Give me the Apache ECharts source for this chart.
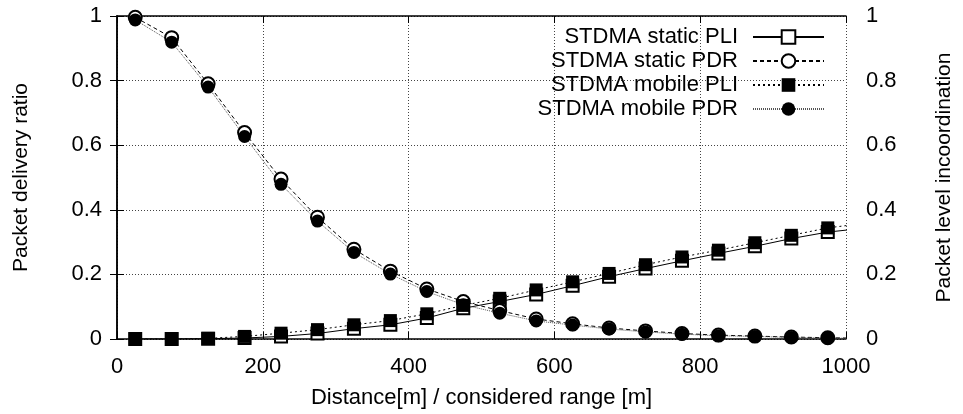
<!DOCTYPE html>
<html>
<head>
<meta charset="utf-8">
<script src="https://cdn.jsdelivr.net/npm/echarts@6/dist/echarts.min.js"></script>
<style>html,body{margin:0;padding:0;background:#fff}#c{width:963px;height:414px}</style>
</head>
<body>
<div id="c"></div>
<script>
// Distances [m]; the last one lies beyond the plotted range and is clipped at the border
const distances = [25, 75, 125, 175, 225, 275, 325, 375, 425, 475, 525, 575, 625, 675, 725, 775, 825, 875, 925, 975, 1025];
const staticPLI  = [0, 0, 0.001, 0.003, 0.008, 0.017, 0.032, 0.044, 0.065, 0.095, 0.116, 0.138, 0.165, 0.193, 0.218, 0.242, 0.265, 0.287, 0.311, 0.331, 0.343];
const staticPDR  = [0.996, 0.933, 0.790, 0.639, 0.495, 0.377, 0.278, 0.210, 0.155, 0.116, 0.088, 0.062, 0.047, 0.034, 0.025, 0.017, 0.012, 0.009, 0.006, 0.004, 0.002];
const mobilePLI  = [0, 0, 0.002, 0.008, 0.018, 0.029, 0.044, 0.057, 0.078, 0.104, 0.126, 0.152, 0.177, 0.203, 0.230, 0.254, 0.275, 0.298, 0.321, 0.344, 0.358];
const mobilePDR  = [0.988, 0.919, 0.780, 0.627, 0.479, 0.365, 0.268, 0.201, 0.147, 0.106, 0.080, 0.056, 0.043, 0.031, 0.022, 0.015, 0.010, 0.008, 0.005, 0.003, 0.002];
const seriesNames = ['STDMA static PLI', 'STDMA static PDR', 'STDMA mobile PLI', 'STDMA mobile PDR'];
const xTicks = [0, 200, 400, 600, 800, 1000];
const yTicks = [0, 0.2, 0.4, 0.6, 0.8, 1];

const FONT = 'Liberation Sans';
const pairs = arr => distances.map((d, i) => [d, arr[i]]);
const chart = echarts.init(document.getElementById('c'), null, {renderer: 'canvas'});

const yAxisCommon = {
  type: 'value', min: yTicks[0], max: yTicks[yTicks.length - 1], interval: 0.2,
  nameLocation: 'middle', nameRotate: 90,
  nameTextStyle: {fontFamily: FONT, fontSize: 21, color: '#000'},
  axisLine: {show: true, lineStyle: {color: '#000', width: 1.5}},
  axisTick: {show: true, inside: true, length: 7, lineStyle: {color: '#000'}},
  axisLabel: {fontFamily: FONT, fontSize: 22, color: '#000', formatter: v => String(v)}
};

chart.setOption({
  animation: false,
  backgroundColor: '#fff',
  grid: {left: 117, right: 110, top: 16, bottom: 73, containLabel: false},
  legend: {
    orient: 'vertical', right: 133, top: 20, align: 'right',
    itemWidth: 71, itemHeight: 17, itemGap: 0,
    textStyle: {fontFamily: FONT, fontSize: 22, color: '#000', lineHeight: 24, padding: [0, 10, 0, 0]},
    data: seriesNames
  },
  xAxis: [{
    type: 'value', min: xTicks[0], max: xTicks[xTicks.length - 1], interval: 200,
    name: 'Distance[m] / considered range [m]', nameLocation: 'middle', nameGap: 48,
    nameTextStyle: {fontFamily: FONT, fontSize: 22, color: '#000'},
    axisLine: {show: true, onZero: false, lineStyle: {color: '#000', width: 1.5}},
    axisTick: {show: true, inside: true, length: 7, lineStyle: {color: '#000'}},
    axisLabel: {fontFamily: FONT, fontSize: 22, color: '#000', margin: 17, formatter: v => String(v)},
    splitLine: {show: true, lineStyle: {color: '#444', type: [1, 2], width: 1}}
  }, {
    type: 'value', position: 'top', min: xTicks[0], max: xTicks[xTicks.length - 1], interval: 200,
    axisLine: {show: true, onZero: false, lineStyle: {color: '#000', width: 1.5}},
    axisTick: {show: true, inside: true, length: 7, lineStyle: {color: '#000'}},
    axisLabel: {show: false}, splitLine: {show: false}
  }],
  yAxis: [
    Object.assign({}, yAxisCommon, {
      position: 'left', name: 'Packet delivery ratio', nameGap: 85,
      axisLabel: Object.assign({}, yAxisCommon.axisLabel, {margin: 15}),
      splitLine: {show: true, lineStyle: {color: '#444', type: [1, 2], width: 1}}
    }),
    Object.assign({}, yAxisCommon, {
      position: 'right', name: 'Packet level incoordination', nameGap: 88,
      axisLabel: Object.assign({}, yAxisCommon.axisLabel, {margin: 20}),
      splitLine: {show: false}
    })
  ],
  series: [
    {
      name: seriesNames[0], type: 'line', yAxisIndex: 1, clip: true, data: pairs(staticPLI),
      symbol: 'emptyRect', symbolSize: 12,
      lineStyle: {color: '#000', width: 1, type: 'solid'},
      itemStyle: {color: '#000', borderWidth: 1}
    },
    {
      name: seriesNames[1], type: 'line', yAxisIndex: 0, clip: true, data: pairs(staticPDR),
      symbol: 'emptyCircle', symbolSize: 13,
      lineStyle: {color: '#000', width: 1, type: [4, 3]},
      itemStyle: {color: '#000', borderWidth: 1}
    },
    {
      name: seriesNames[2], type: 'line', yAxisIndex: 1, clip: true, data: pairs(mobilePLI),
      symbol: 'rect', symbolSize: 13,
      lineStyle: {color: '#000', width: 1, type: [2, 3]},
      itemStyle: {color: '#000'}
    },
    {
      name: seriesNames[3], type: 'line', yAxisIndex: 0, clip: true, data: pairs(mobilePDR),
      symbol: 'circle', symbolSize: 13,
      lineStyle: {color: '#555', width: 1, type: [1, 1]},
      itemStyle: {color: '#000'}
    }
  ]
});
</script>
</body>
</html>
